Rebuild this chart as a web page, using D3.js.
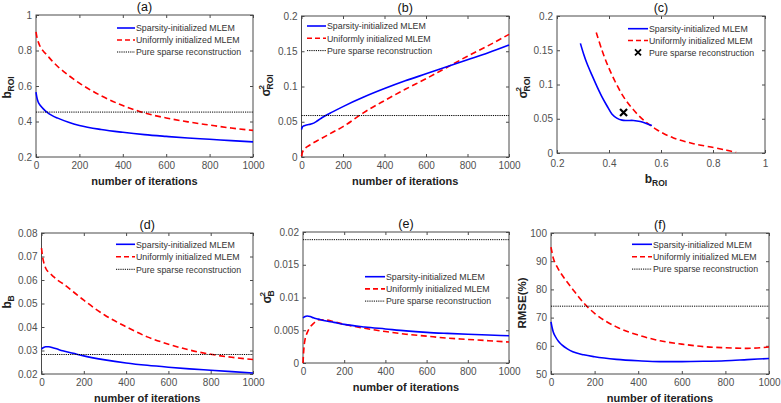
<!DOCTYPE html>
<html><head><meta charset="utf-8">
<script src="https://cdn.jsdelivr.net/npm/d3@7"></script>
<style>
html,body{margin:0;padding:0;background:#fff;}
svg{display:block;font-family:"Liberation Sans",Arial,sans-serif;}
</style></head>
<body><svg id="c" width="781" height="403"></svg>
<script>
// ---------- data ----------
const iters = [0, 5, 10, 20, 35, 50, 75, 100, 150, 200, 300, 400, 500, 600, 700, 800, 900, 1000];
// (a) bias ROI
const aSparse  = [0.565,0.53,0.51,0.49,0.47,0.453,0.433,0.419,0.396,0.378,0.355,0.339,0.326,0.316,0.307,0.300,0.292,0.285];
const aUniform = [0.905,0.87,0.85,0.82,0.795,0.775,0.74,0.71,0.66,0.616,0.545,0.49,0.448,0.42,0.398,0.38,0.363,0.35];
const aPure = 0.453;
// (b) variance ROI
const bSparse  = [0.039,0.043,0.044,0.045,0.046,0.047,0.051,0.056,0.064,0.0715,0.085,0.097,0.108,0.118,0.128,0.138,0.148,0.159];
const bUniform = [0.001,0.007,0.010,0.013,0.016,0.019,0.023,0.027,0.035,0.043,0.063,0.080,0.096,0.111,0.127,0.143,0.158,0.174];
const bPure = 0.0588;
// (c) variance vs bias ROI
const cSparseB  = [0.290,0.302,0.315,0.334,0.354,0.373,0.392,0.411,0.430,0.450,0.469,0.494,0.520,0.546,0.565];
const cSparseS  = [0.160,0.145,0.131,0.114,0.097,0.082,0.069,0.057,0.051,0.048,0.0475,0.0475,0.046,0.0426,0.040];
const cUniformB = [0.351,0.373,0.395,0.424,0.456,0.494,0.533,0.584,0.648,0.725,0.802,0.853,0.889];
const cUniformS = [0.176,0.150,0.128,0.104,0.082,0.063,0.048,0.034,0.022,0.0136,0.008,0.004,0.001];
const cPure = [0.456, 0.059];
// (d) bias background
const dSparse  = [0.0306,0.0310,0.0313,0.0316,0.0316,0.0313,0.0306,0.0299,0.0288,0.0277,0.0260,0.0247,0.0237,0.0229,0.0222,0.0216,0.0210,0.0204];
const dUniform = [0.0736,0.0700,0.0677,0.0650,0.0632,0.0620,0.0600,0.0585,0.0550,0.0514,0.0450,0.0401,0.0358,0.0327,0.0302,0.0284,0.0271,0.0262];
const dPure = 0.0283;
// (e) variance background
const eSparse  = [0.0069,0.0070,0.0071,0.00718,0.0071,0.0069,0.0067,0.00648,0.0062,0.0059,0.0055,0.0052,0.0049,0.00468,0.00452,0.00438,0.00427,0.00417];
const eUniform = [0.0,0.0025,0.0036,0.0046,0.0055,0.0060,0.0066,0.0066,0.0063,0.0059,0.0053,0.0048,0.0044,0.0041,0.0038,0.0036,0.0034,0.0032];
const ePure = 0.01883;
// (f) RMSE
const fSparse  = [68.5,66.5,65.0,63.3,61.5,60.3,58.9,57.9,56.8,56.1,55.2,54.7,54.4,54.4,54.5,54.7,55.1,55.5];
const fUniform = [95,93,91.2,89.2,87,85.2,82.5,80,75.2,71.5,66.7,63.8,61.8,60.6,59.7,59.3,59.1,59.6];
const fPure = 74.05;

const iterTicks = [0, 200, 400, 600, 800, 1000];
const aTicks = [0.2, 0.4, 0.6, 0.8, 1];
const bTicks = [0, 0.05, 0.1, 0.15, 0.2];
const cXTicks = [0.2, 0.4, 0.6, 0.8, 1];
const cYTicks = [0, 0.05, 0.1, 0.15, 0.2];
const dTicks = [0.02, 0.03, 0.04, 0.05, 0.06, 0.07, 0.08];
const eTicks = [0, 0.005, 0.01, 0.015, 0.02];
const fTicks = [50, 60, 70, 80, 90, 100];
const legendNames = ["Sparsity-initialized MLEM", "Uniformly initialized MLEM", "Pure sparse reconstruction"];
const titles = ["(a)", "(b)", "(c)", "(d)", "(e)", "(f)"];

// ---------- drawing ----------
const svg = d3.select("#c");
const BLUE = "#0000ff", RED = "#ff0000";
const AX = "#4a4a4a", TXT = "#505050";

function panel(cfg) {
  const {L, R, T, B} = cfg.box;
  const x = d3.scaleLinear().domain(cfg.xDomain).range([L, R]);
  const y = d3.scaleLinear().domain(cfg.yDomain).range([B, T]);
  const g = svg.append("g");
  const fmt = d => String(+d.toFixed(4));

  // axes
  const ax = [
    g.append("g").attr("transform", `translate(0,${B})`).call(d3.axisBottom(x).tickValues(cfg.xTicks).tickSize(-3).tickPadding(cfg.xPad || 5).tickFormat(fmt)),
    g.append("g").attr("transform", `translate(${L},0)`).call(d3.axisLeft(y).tickValues(cfg.yTicks).tickSize(-3).tickPadding(4).tickFormat(fmt)),
    g.append("g").attr("transform", `translate(0,${T})`).call(d3.axisTop(x).tickValues(cfg.xTicks).tickSize(-3).tickFormat("")),
    g.append("g").attr("transform", `translate(${R},0)`).call(d3.axisRight(y).tickValues(cfg.yTicks).tickSize(-3).tickFormat(""))
  ];
  ax.forEach(a => {
    a.select(".domain").remove();
    a.selectAll("line").attr("stroke", AX);
    a.selectAll("text").attr("fill", TXT).style("font-size", "10px").style("font-family", "Liberation Sans, Arial, sans-serif");
  });
  g.append("rect").attr("x", L).attr("y", T).attr("width", R - L).attr("height", B - T)
    .attr("fill", "none").attr("stroke", AX).attr("stroke-width", 1);

  // title
  g.append("text").attr("x", (L + R) / 2).attr("y", T - 4.5).attr("text-anchor", "middle")
    .style("font-size", "12.5px").attr("fill", "#111").text(cfg.title);

  // x label
  if (cfg.xlabel === "iter") {
    g.append("text").attr("x", (L + R) / 2).attr("y", B + 27.5).attr("text-anchor", "middle")
      .style("font-size", "11px").style("font-weight", "bold").attr("fill", "#222").text("number of iterations");
  } else {
    const t = g.append("text").attr("x", (L + R) / 2 - 5).attr("y", B + 30).attr("text-anchor", "middle")
      .style("font-weight", "bold").attr("fill", "#222");
    t.append("tspan").style("font-size", "12px").text(cfg.xlabel[0]);
    t.append("tspan").style("font-size", "8.5px").attr("dy", 3).text(cfg.xlabel[1]);
  }

  // y label
  const yl = cfg.ylabel;
  const lg = g.append("g").attr("transform", `translate(${yl.x},${yl.cy}) rotate(-90)`)
    .style("font-weight", "bold").attr("fill", "#222");
  if (yl.plain) {
    lg.append("text").attr("text-anchor", "middle").style("font-size", "11.5px").attr("fill", "#222").text(yl.plain);
  } else {
    const mainW = 7;
    const subW = yl.sub.length * 6;
    const total = mainW + subW;
    const x0 = -total / 2;
    lg.append("text").attr("x", x0).attr("y", 0).style("font-size", "12px").attr("fill", "#222").text(yl.main);
    if (yl.sup) lg.append("text").attr("x", x0 + mainW).attr("y", -6).style("font-size", "8px").attr("fill", "#222").text(yl.sup);
    lg.append("text").attr("x", x0 + mainW).attr("y", 3).style("font-size", "8.5px").attr("fill", "#222").text(yl.sub);
  }

  // lines
  cfg.series.forEach(s => {
    const line = d3.line().x(d => x(d[0])).y(d => y(d[1])).curve(s.curve || d3.curveMonotoneX);
    g.append("path").datum(s.pts).attr("d", line).attr("fill", "none")
      .attr("stroke", s.color).attr("stroke-width", s.w)
      .attr("stroke-dasharray", s.dash || null);
  });
  if (cfg.pureLine !== undefined) {
    g.append("line").attr("x1", x(cfg.xDomain[0])).attr("x2", x(cfg.xDomain[1]))
      .attr("y1", y(cfg.pureLine)).attr("y2", y(cfg.pureLine))
      .attr("stroke", "#000").attr("stroke-width", 1).attr("stroke-dasharray", "1.2,1");
  }
  if (cfg.pureMark) {
    const px = x(cfg.pureMark[0]), py = y(cfg.pureMark[1]), r = 3.5;
    g.append("path").attr("d", `M${px - r},${py - r}L${px + r},${py + r}M${px - r},${py + r}L${px + r},${py - r}`)
      .attr("stroke", "#000").attr("stroke-width", 2.2);
  }

  // legend
  const lgd = cfg.legend;
  legendNames.forEach((name, i) => {
    const yy = lgd.y0 + i * lgd.dy;
    if (i === 0) g.append("line").attr("x1", lgd.x1).attr("x2", lgd.x2).attr("y1", yy).attr("y2", yy).attr("stroke", BLUE).attr("stroke-width", 1.6);
    if (i === 1) g.append("line").attr("x1", lgd.x1).attr("x2", lgd.x2).attr("y1", yy).attr("y2", yy).attr("stroke", RED).attr("stroke-width", 1.6).attr("stroke-dasharray", "5,3");
    if (i === 2) {
      if (cfg.pureMark) {
        const cx = (lgd.x1 + lgd.x2) / 2, r = 3;
        g.append("path").attr("d", `M${cx - r},${yy - r}L${cx + r},${yy + r}M${cx - r},${yy + r}L${cx + r},${yy - r}`)
          .attr("stroke", "#000").attr("stroke-width", 1.8);
      } else {
        g.append("line").attr("x1", lgd.x1).attr("x2", lgd.x2).attr("y1", yy).attr("y2", yy).attr("stroke", "#000").attr("stroke-width", 1).attr("stroke-dasharray", "1.2,1");
      }
    }
    g.append("text").attr("x", lgd.x2 + 1).attr("y", yy + 3.2).style("font-size", "8.8px").attr("fill", "#333").text(name);
  });
}

const zipIt = vals => iters.map((t, i) => [t, vals[i]]);
const iterSeries = (sp, un) => [
  {pts: zipIt(un), color: RED, w: 1.6, dash: "6,3.5"},
  {pts: zipIt(sp), color: BLUE, w: 1.6}
];

panel({title: titles[0], box: {L: 36, R: 253, T: 15, B: 157}, xDomain: [0, 1000], yDomain: [0.2, 1],
  xTicks: iterTicks, yTicks: aTicks, xlabel: "iter",
  ylabel: {x: 11, cy: 86, main: "b", sub: "ROI"},
  series: iterSeries(aSparse, aUniform), pureLine: aPure,
  legend: {x1: 117, x2: 135, y0: 28, dy: 12}});

panel({title: titles[1], box: {L: 301.5, R: 509, T: 16, B: 157}, xDomain: [0, 1000], yDomain: [0, 0.2],
  xTicks: iterTicks, yTicks: bTicks, xlabel: "iter",
  ylabel: {x: 270, cy: 84, main: "σ", sup: "2", sub: "ROI"},
  series: iterSeries(bSparse, bUniform), pureLine: bPure,
  legend: {x1: 307, x2: 326, y0: 26, dy: 12.3}});

panel({title: titles[2], box: {L: 557, R: 765, T: 16, B: 153}, xDomain: [0.2, 1], yDomain: [0, 0.2],
  xTicks: cXTicks, yTicks: cYTicks, xlabel: ["b", "ROI"], xPad: 6.5,
  ylabel: {x: 527, cy: 86, main: "σ", sup: "2", sub: "ROI"},
  series: [
    {pts: cUniformB.map((b, i) => [b, cUniformS[i]]), color: RED, w: 1.6, dash: "6,3.5", curve: d3.curveCatmullRom},
    {pts: cSparseB.map((b, i) => [b, cSparseS[i]]), color: BLUE, w: 1.6, curve: d3.curveCatmullRom}
  ],
  pureMark: cPure,
  legend: {x1: 628, x2: 648, y0: 28.7, dy: 11.8}});

panel({title: titles[3], box: {L: 41.5, R: 253, T: 233, B: 374}, xDomain: [0, 1000], yDomain: [0.02, 0.08],
  xTicks: iterTicks, yTicks: dTicks, xlabel: "iter",
  ylabel: {x: 10.5, cy: 302, main: "b", sub: "B"},
  series: iterSeries(dSparse, dUniform), pureLine: dPure,
  legend: {x1: 116, x2: 135, y0: 244.3, dy: 12.5}});

panel({title: titles[4], box: {L: 303, R: 509, T: 232, B: 363}, xDomain: [0, 1000], yDomain: [0, 0.02],
  xTicks: iterTicks, yTicks: eTicks, xlabel: "iter",
  ylabel: {x: 271, cy: 297, main: "σ", sup: "2", sub: "B"},
  series: iterSeries(eSparse, eUniform), pureLine: ePure,
  legend: {x1: 365, x2: 385, y0: 276.7, dy: 12.2}});

panel({title: titles[5], box: {L: 551, R: 769, T: 233, B: 374}, xDomain: [0, 1000], yDomain: [50, 100],
  xTicks: iterTicks, yTicks: fTicks, xlabel: "iter",
  ylabel: {x: 526, cy: 303, plain: "RMSE(%)"},
  series: iterSeries(fSparse, fUniform), pureLine: fPure,
  legend: {x1: 632, x2: 652, y0: 244.3, dy: 12.4}});
</script>
</body></html>
